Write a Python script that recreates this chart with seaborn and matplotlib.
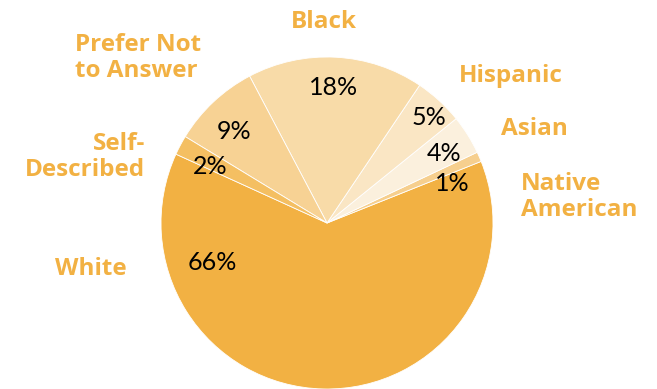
import matplotlib
matplotlib.use("Agg")
import matplotlib.pyplot as plt
import seaborn as sns

sns.set_style("white")
plt.rcParams['font.family'] = ['Lato', 'DejaVu Sans']

# Data (counter-clockwise order starting with White)
categories = ["White", "Native\nAmerican", "Asian", "Hispanic", "Black",
              "Prefer Not\nto Answer", "Self-\nDescribed"]
values = [66, 1, 4, 5, 18, 9, 2]
colors = ["#F2B143", "#F6CF8E", "#FBF0DD", "#FAE6C4", "#F8DBA8", "#F7D294", "#F4BF62"]

# Label placement (data coords, pie radius = 1)
label_pos = [(-1.42, -0.277), (1.169, 0.157), (1.247, 0.566), (1.108, 0.886),
             (-0.018, 1.211), (-1.518, 0.994), (-1.096, 0.398)]
label_ha = ["center", "left", "center", "center", "center", "left", "right"]
pct_pos = [(-0.693, -0.235), (0.753, 0.235), (0.705, 0.416), (0.614, 0.633),
           (0.042, 0.819), (-0.560, 0.554), (-0.705, 0.343)]

fig = plt.figure(figsize=(6.57, 3.89), dpi=100)
ax = fig.add_axes([0, 0, 1, 1])
ax.pie(values, colors=colors, startangle=155.5, counterclock=True,
       wedgeprops=dict(edgecolor="white", linewidth=0.6))
ax.set_xlim(-327 / 166, (657 - 327) / 166)
ax.set_ylim(-1.0, 223 / 166)
ax.set_aspect("auto")
ax.axis("off")

orange = "#F2B143"
for cat, (x, y), ha in zip(categories, label_pos, label_ha):
    ax.text(x, y, cat, ha=ha, va="center", fontsize=17.5, fontweight="bold",
            color=orange, linespacing=1.15, family=["Open Sans", "DejaVu Sans"])
for v, (x, y) in zip(values, pct_pos):
    ax.text(x, y, f"{v}%", ha="center", va="center", fontsize=18, color="black")

fig.savefig("out.png", dpi=100)
